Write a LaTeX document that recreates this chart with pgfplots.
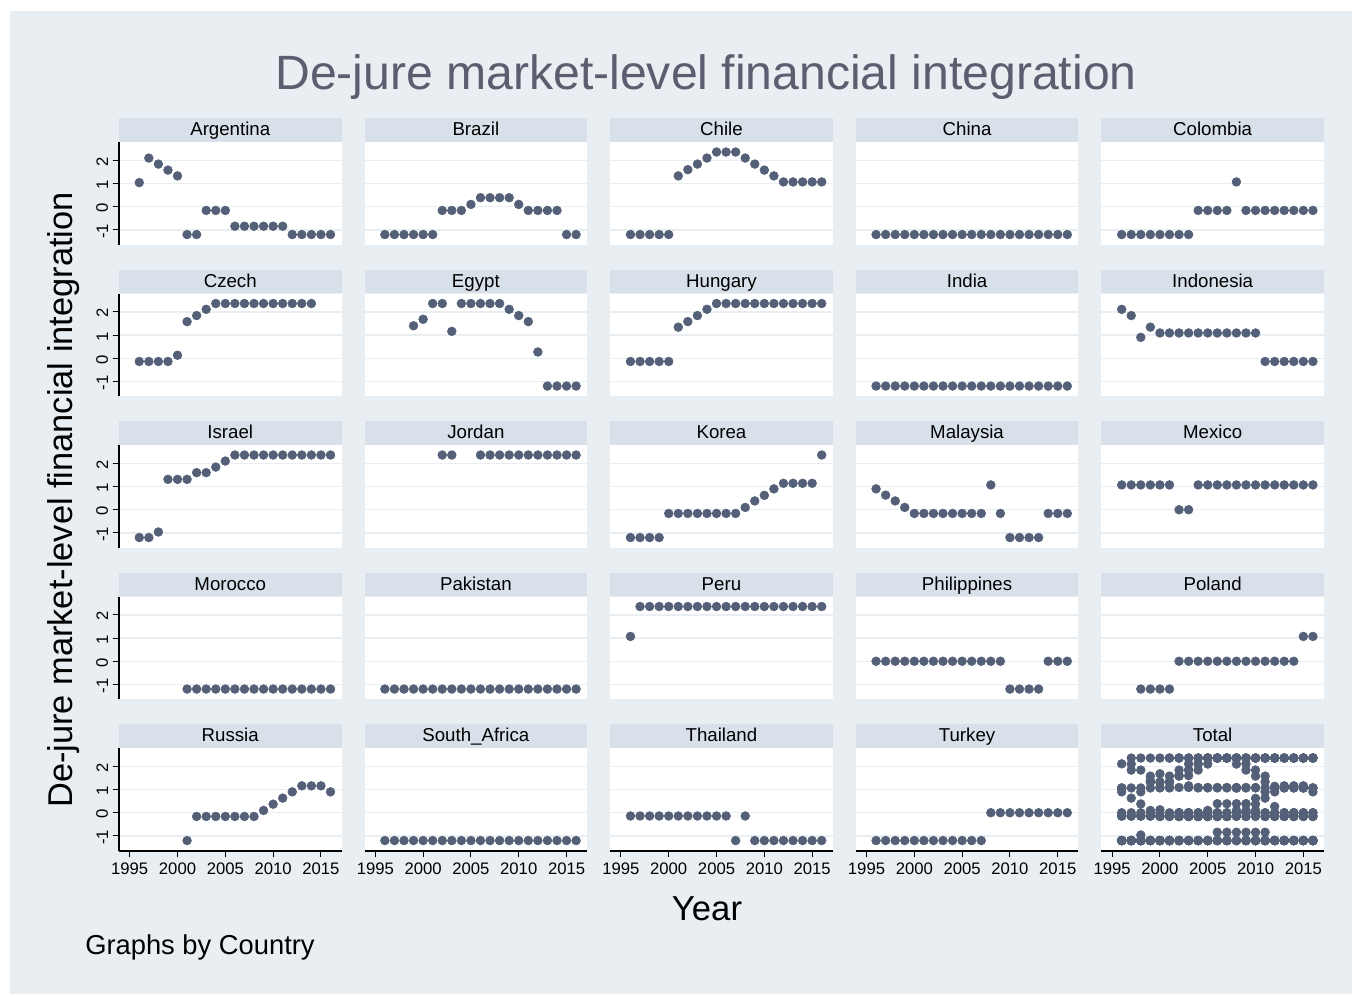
\documentclass[border=0pt]{standalone}
\usepackage{pgfplots}
\pgfplotsset{compat=1.18}
\usepackage{pgfplotstable}
\usepackage{fontspec}
\setmainfont{Liberation Sans}
\definecolor{bg}{HTML}{E9EEF2}
\definecolor{hdr}{HTML}{D8E1E9}
\definecolor{gridc}{HTML}{E9EEF2}
\definecolor{mk}{HTML}{546078}
\definecolor{ttl}{HTML}{5A5E6E}

\pgfplotstableread{
x y
1996 1.04
1997 2.10
1998 1.84
1999 1.58
2000 1.33
2001 -1.20
2002 -1.20
2003 -0.16
2004 -0.16
2005 -0.16
2006 -0.84
2007 -0.84
2008 -0.84
2009 -0.84
2010 -0.84
2011 -0.84
2012 -1.20
2013 -1.20
2014 -1.20
2015 -1.20
2016 -1.20
}\tArgentina
\pgfplotstableread{
x y
1996 -1.20
1997 -1.20
1998 -1.20
1999 -1.20
2000 -1.20
2001 -1.20
2002 -0.16
2003 -0.16
2004 -0.16
2005 0.10
2006 0.39
2007 0.39
2008 0.39
2009 0.39
2010 0.10
2011 -0.16
2012 -0.16
2013 -0.16
2014 -0.16
2015 -1.20
2016 -1.20
}\tBrazil
\pgfplotstableread{
x y
1996 -1.20
1997 -1.20
1998 -1.20
1999 -1.20
2000 -1.20
2001 1.33
2002 1.60
2003 1.84
2004 2.10
2005 2.36
2006 2.36
2007 2.36
2008 2.10
2009 1.84
2010 1.58
2011 1.33
2012 1.07
2013 1.07
2014 1.07
2015 1.07
2016 1.07
}\tChile
\pgfplotstableread{
x y
1996 -1.20
1997 -1.20
1998 -1.20
1999 -1.20
2000 -1.20
2001 -1.20
2002 -1.20
2003 -1.20
2004 -1.20
2005 -1.20
2006 -1.20
2007 -1.20
2008 -1.20
2009 -1.20
2010 -1.20
2011 -1.20
2012 -1.20
2013 -1.20
2014 -1.20
2015 -1.20
2016 -1.20
}\tChina
\pgfplotstableread{
x y
1996 -1.20
1997 -1.20
1998 -1.20
1999 -1.20
2000 -1.20
2001 -1.20
2002 -1.20
2003 -1.20
2004 -0.16
2005 -0.16
2006 -0.16
2007 -0.16
2008 1.07
2009 -0.16
2010 -0.16
2011 -0.16
2012 -0.16
2013 -0.16
2014 -0.16
2015 -0.16
2016 -0.16
}\tColombia
\pgfplotstableread{
x y
1996 -0.14
1997 -0.14
1998 -0.14
1999 -0.14
2000 0.13
2001 1.58
2002 1.84
2003 2.11
2004 2.36
2005 2.36
2006 2.36
2007 2.36
2008 2.36
2009 2.36
2010 2.36
2011 2.36
2012 2.36
2013 2.36
2014 2.36
}\tCzech
\pgfplotstableread{
x y
1999 1.40
2000 1.68
2001 2.36
2002 2.36
2003 1.16
2004 2.36
2005 2.36
2006 2.36
2007 2.36
2008 2.36
2009 2.11
2010 1.84
2011 1.58
2012 0.27
2013 -1.20
2014 -1.20
2015 -1.20
2016 -1.20
}\tEgypt
\pgfplotstableread{
x y
1996 -0.14
1997 -0.14
1998 -0.14
1999 -0.14
2000 -0.14
2001 1.34
2002 1.58
2003 1.84
2004 2.11
2005 2.36
2006 2.36
2007 2.36
2008 2.36
2009 2.36
2010 2.36
2011 2.36
2012 2.36
2013 2.36
2014 2.36
2015 2.36
2016 2.36
}\tHungary
\pgfplotstableread{
x y
1996 -1.20
1997 -1.20
1998 -1.20
1999 -1.20
2000 -1.20
2001 -1.20
2002 -1.20
2003 -1.20
2004 -1.20
2005 -1.20
2006 -1.20
2007 -1.20
2008 -1.20
2009 -1.20
2010 -1.20
2011 -1.20
2012 -1.20
2013 -1.20
2014 -1.20
2015 -1.20
2016 -1.20
}\tIndia
\pgfplotstableread{
x y
1996 2.11
1997 1.84
1998 0.90
1999 1.34
2000 1.09
2001 1.09
2002 1.09
2003 1.09
2004 1.09
2005 1.09
2006 1.09
2007 1.09
2008 1.09
2009 1.09
2010 1.09
2011 -0.14
2012 -0.14
2013 -0.14
2014 -0.14
2015 -0.14
2016 -0.14
}\tIndonesia
\pgfplotstableread{
x y
1996 -1.20
1997 -1.20
1998 -0.96
1999 1.31
2000 1.31
2001 1.31
2002 1.60
2003 1.60
2004 1.84
2005 2.10
2006 2.36
2007 2.36
2008 2.36
2009 2.36
2010 2.36
2011 2.36
2012 2.36
2013 2.36
2014 2.36
2015 2.36
2016 2.36
}\tIsrael
\pgfplotstableread{
x y
2002 2.36
2003 2.36
2006 2.36
2007 2.36
2008 2.36
2009 2.36
2010 2.36
2011 2.36
2012 2.36
2013 2.36
2014 2.36
2015 2.36
2016 2.36
}\tJordan
\pgfplotstableread{
x y
1996 -1.20
1997 -1.20
1998 -1.20
1999 -1.20
2000 -0.16
2001 -0.16
2002 -0.16
2003 -0.16
2004 -0.16
2005 -0.16
2006 -0.16
2007 -0.16
2008 0.10
2009 0.38
2010 0.62
2011 0.90
2012 1.14
2013 1.14
2014 1.14
2015 1.14
2016 2.36
}\tKorea
\pgfplotstableread{
x y
1996 0.90
1997 0.63
1998 0.38
1999 0.10
2000 -0.16
2001 -0.16
2002 -0.16
2003 -0.16
2004 -0.16
2005 -0.16
2006 -0.16
2007 -0.16
2008 1.07
2009 -0.16
2010 -1.20
2011 -1.20
2012 -1.20
2013 -1.20
2014 -0.16
2015 -0.16
2016 -0.16
}\tMalaysia
\pgfplotstableread{
x y
1996 1.07
1997 1.07
1998 1.07
1999 1.07
2000 1.07
2001 1.07
2002 0.00
2003 0.00
2004 1.07
2005 1.07
2006 1.07
2007 1.07
2008 1.07
2009 1.07
2010 1.07
2011 1.07
2012 1.07
2013 1.07
2014 1.07
2015 1.07
2016 1.07
}\tMexico
\pgfplotstableread{
x y
2001 -1.20
2002 -1.20
2003 -1.20
2004 -1.20
2005 -1.20
2006 -1.20
2007 -1.20
2008 -1.20
2009 -1.20
2010 -1.20
2011 -1.20
2012 -1.20
2013 -1.20
2014 -1.20
2015 -1.20
2016 -1.20
}\tMorocco
\pgfplotstableread{
x y
1996 -1.20
1997 -1.20
1998 -1.20
1999 -1.20
2000 -1.20
2001 -1.20
2002 -1.20
2003 -1.20
2004 -1.20
2005 -1.20
2006 -1.20
2007 -1.20
2008 -1.20
2009 -1.20
2010 -1.20
2011 -1.20
2012 -1.20
2013 -1.20
2014 -1.20
2015 -1.20
2016 -1.20
}\tPakistan
\pgfplotstableread{
x y
1996 1.07
1997 2.36
1998 2.36
1999 2.36
2000 2.36
2001 2.36
2002 2.36
2003 2.36
2004 2.36
2005 2.36
2006 2.36
2007 2.36
2008 2.36
2009 2.36
2010 2.36
2011 2.36
2012 2.36
2013 2.36
2014 2.36
2015 2.36
2016 2.36
}\tPeru
\pgfplotstableread{
x y
1996 0.00
1997 0.00
1998 0.00
1999 0.00
2000 0.00
2001 0.00
2002 0.00
2003 0.00
2004 0.00
2005 0.00
2006 0.00
2007 0.00
2008 0.00
2009 0.00
2010 -1.20
2011 -1.20
2012 -1.20
2013 -1.20
2014 0.00
2015 0.00
2016 0.00
}\tPhilippines
\pgfplotstableread{
x y
1998 -1.20
1999 -1.20
2000 -1.20
2001 -1.20
2002 0.00
2003 0.00
2004 0.00
2005 0.00
2006 0.00
2007 0.00
2008 0.00
2009 0.00
2010 0.00
2011 0.00
2012 0.00
2013 0.00
2014 0.00
2015 1.07
2016 1.07
}\tPoland
\pgfplotstableread{
x y
2001 -1.20
2002 -0.16
2003 -0.16
2004 -0.16
2005 -0.16
2006 -0.16
2007 -0.16
2008 -0.16
2009 0.10
2010 0.37
2011 0.63
2012 0.90
2013 1.16
2014 1.16
2015 1.16
2016 0.90
}\tRussia
\pgfplotstableread{
x y
1996 -1.20
1997 -1.20
1998 -1.20
1999 -1.20
2000 -1.20
2001 -1.20
2002 -1.20
2003 -1.20
2004 -1.20
2005 -1.20
2006 -1.20
2007 -1.20
2008 -1.20
2009 -1.20
2010 -1.20
2011 -1.20
2012 -1.20
2013 -1.20
2014 -1.20
2015 -1.20
2016 -1.20
}\tSouthAfrica
\pgfplotstableread{
x y
1996 -0.14
1997 -0.14
1998 -0.14
1999 -0.14
2000 -0.14
2001 -0.14
2002 -0.14
2003 -0.14
2004 -0.14
2005 -0.14
2006 -0.14
2007 -1.20
2008 -0.14
2009 -1.20
2010 -1.20
2011 -1.20
2012 -1.20
2013 -1.20
2014 -1.20
2015 -1.20
2016 -1.20
}\tThailand
\pgfplotstableread{
x y
1996 -1.20
1997 -1.20
1998 -1.20
1999 -1.20
2000 -1.20
2001 -1.20
2002 -1.20
2003 -1.20
2004 -1.20
2005 -1.20
2006 -1.20
2007 -1.20
2008 0.00
2009 0.00
2010 0.00
2011 0.00
2012 0.00
2013 0.00
2014 0.00
2015 0.00
2016 0.00
}\tTurkey

\pgfplotsset{
  panel/.style={
    scale only axis, width=166.875pt, height=77.03pt,
    anchor=south west,
    xmin=1993.88, xmax=2017.15, ymin=-1.65, ymax=2.78,
    axis lines*=left,
    axis line style={line width=0.8pt, black},
    tick align=outside, major tick length=4.7pt,
    tick style={line width=0.8pt, black},
    xtick={1995,2000,2005,2010,2015},
    xticklabels={1995,2000,2005,2010,2015},
    ytick={-1,0,1,2},
    yticklabels={-1,0,1,2},
    ymajorgrids, grid style={gridc, line width=1.1pt},
    axis background/.style={fill=white},
    xticklabel style={font=\fontsize{12.5}{13}\selectfont, yshift=-1pt},
    yticklabel style={rotate=90, anchor=south, font=\fontsize{12.5}{13}\selectfont, xshift=-1pt},
    every axis title shift=0pt,
    title style={at={(0.5,1)}, anchor=south, yshift=0.45pt, fill=hdr,
      minimum width=166.875pt, inner sep=0pt, outer sep=0pt, text height=13.05pt, text depth=4.5pt,
      font=\fontsize{14}{14}\selectfont},
  },
  noy/.style={y axis line style={draw=none}, ytick style={draw=none}, yticklabels={}},
  nox/.style={x axis line style={draw=none}, xtick style={draw=none}, xticklabels={}},
  dots/.style={only marks, mark=*, mark size=3.3pt, color=mk, mark options={draw=none, fill=mk}},
}
\newcommand\panel[5]{%
  \begin{axis}[panel, at={(#1,#2)}, title={#3}, #5]
  \addplot[dots] table {#4};
  \end{axis}}

\begin{document}
\begin{tikzpicture}[x=0.75pt,y=0.75pt]
\fill[white] (0,0) rectangle (1360,996);
\fill[bg] (10,2) rectangle (1352,985);
\node[anchor=base, text=ttl, font=\fontsize{36.1}{37}\selectfont] at (706,906.5) {De-jure market-level financial integration};
\node[anchor=base, rotate=90, inner sep=0pt, font=\fontsize{25.8}{26}\selectfont] at (72,496) {De-jure market-level financial integration};
\node[anchor=base, inner sep=0pt, font=\fontsize{26}{27}\selectfont] at (707,75) {Year};
\node[anchor=base west, inner sep=0pt, font=\fontsize{20.5}{21}\selectfont] at (85,41) {Graphs by Country};

% row 1
\panel{89.25pt}{563.25pt}{Argentina}{\tArgentina}{nox}
\panel{273.45pt}{563.25pt}{Brazil}{\tBrazil}{nox,noy}
\panel{457.65pt}{563.25pt}{Chile}{\tChile}{nox,noy}
\panel{641.85pt}{563.25pt}{China}{\tChina}{nox,noy}
\panel{826.05pt}{563.25pt}{Colombia}{\tColombia}{nox,noy}
% row 2
\panel{89.25pt}{449.625pt}{Czech}{\tCzech}{nox}
\panel{273.45pt}{449.625pt}{Egypt}{\tEgypt}{nox,noy}
\panel{457.65pt}{449.625pt}{Hungary}{\tHungary}{nox,noy}
\panel{641.85pt}{449.625pt}{India}{\tIndia}{nox,noy}
\panel{826.05pt}{449.625pt}{Indonesia}{\tIndonesia}{nox,noy}
% row 3
\panel{89.25pt}{336pt}{Israel}{\tIsrael}{nox}
\panel{273.45pt}{336pt}{Jordan}{\tJordan}{nox,noy}
\panel{457.65pt}{336pt}{Korea}{\tKorea}{nox,noy}
\panel{641.85pt}{336pt}{Malaysia}{\tMalaysia}{nox,noy}
\panel{826.05pt}{336pt}{Mexico}{\tMexico}{nox,noy}
% row 4
\panel{89.25pt}{222.375pt}{Morocco}{\tMorocco}{nox}
\panel{273.45pt}{222.375pt}{Pakistan}{\tPakistan}{nox,noy}
\panel{457.65pt}{222.375pt}{Peru}{\tPeru}{nox,noy}
\panel{641.85pt}{222.375pt}{Philippines}{\tPhilippines}{nox,noy}
\panel{826.05pt}{222.375pt}{Poland}{\tPoland}{nox,noy}
% row 5
\panel{89.25pt}{108.75pt}{Russia}{\tRussia}{}
\panel{273.45pt}{108.75pt}{South\_Africa}{\tSouthAfrica}{noy}
\panel{457.65pt}{108.75pt}{Thailand}{\tThailand}{noy}
\panel{641.85pt}{108.75pt}{Turkey}{\tTurkey}{noy}
\begin{axis}[panel, at={(826.05pt,108.75pt)}, title={Total}, noy]
\addplot[dots] table {\tArgentina};
\addplot[dots] table {\tBrazil};
\addplot[dots] table {\tChile};
\addplot[dots] table {\tChina};
\addplot[dots] table {\tColombia};
\addplot[dots] table {\tCzech};
\addplot[dots] table {\tEgypt};
\addplot[dots] table {\tHungary};
\addplot[dots] table {\tIndia};
\addplot[dots] table {\tIndonesia};
\addplot[dots] table {\tIsrael};
\addplot[dots] table {\tJordan};
\addplot[dots] table {\tKorea};
\addplot[dots] table {\tMalaysia};
\addplot[dots] table {\tMexico};
\addplot[dots] table {\tMorocco};
\addplot[dots] table {\tPakistan};
\addplot[dots] table {\tPeru};
\addplot[dots] table {\tPhilippines};
\addplot[dots] table {\tPoland};
\addplot[dots] table {\tRussia};
\addplot[dots] table {\tSouthAfrica};
\addplot[dots] table {\tThailand};
\addplot[dots] table {\tTurkey};
\end{axis}
\end{tikzpicture}
\end{document}
